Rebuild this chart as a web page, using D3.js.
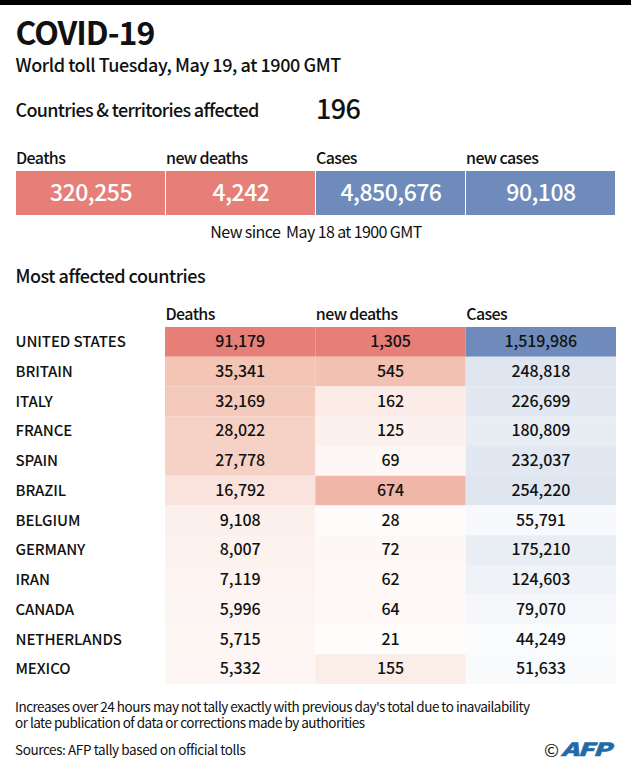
<!DOCTYPE html>
<html>
<head>
<meta charset="utf-8">
<script src="https://cdn.jsdelivr.net/npm/d3@7"></script>
<style>
html, body { margin: 0; padding: 0; background: #fff; }
svg { display: block; }
text { font-family: "Noto Sans CJK SC", "Noto Sans", sans-serif; fill: #111; white-space: pre; }
</style>
</head>
<body>
<div id="chart"></div>
<script>
var summaryLabels = ['Deaths', 'new deaths', 'Cases', 'new cases'];
var summaryValues = [320255, 4242, 4850676, 90108];
var summaryColors = ['#e57f78', '#e57f78', '#6e8bbb', '#6e8bbb'];

var tableHeaders = ['Deaths', 'new deaths', 'Cases'];
var countries = ['UNITED STATES', 'BRITAIN', 'ITALY', 'FRANCE', 'SPAIN', 'BRAZIL', 'BELGIUM', 'GERMANY', 'IRAN', 'CANADA', 'NETHERLANDS', 'MEXICO'];
var deaths = [91179, 35341, 32169, 28022, 27778, 16792, 9108, 8007, 7119, 5996, 5715, 5332];
var newDeaths = [1305, 545, 162, 125, 69, 674, 28, 72, 62, 64, 21, 155];
var cases = [1519986, 248818, 226699, 180809, 232037, 254220, 55791, 175210, 124603, 79070, 44249, 51633];

var width = 631, height = 768;
var fmt = d3.format(',');

var svg = d3.select('#chart').append('svg').attr('width', width).attr('height', height);

function label(x, y, str, size, weight, anchor, spacing) {
	return svg.append('text').attr('x', x).attr('y', y).text(str)
		.style('font-size', size + 'px')
		.style('font-weight', weight || 500)
		.style('letter-spacing', (spacing || 0) + 'px')
		.attr('text-anchor', anchor || 'start');
}

svg.append('rect').attr('width', width).attr('height', 5).attr('fill', '#000');

label(15.5, 45, 'COVID-19', 32, 700, 'start', -1);
label(15.5, 71.5, 'World toll Tuesday, May 19, at 1900 GMT', 18, 500, 'start', -0.43);
label(15.5, 116.5, 'Countries & territories affected', 18, 500, 'start', -0.68);
label(316, 119, '196', 27, 500, 'start', -0.6);

// summary boxes
var sx = d3.scaleBand().domain(d3.range(4)).range([16, 616]);
var sumG = svg.selectAll('g.sum').data(summaryValues).enter().append('g').attr('class', 'sum');
sumG.append('rect')
	.attr('x', function(d, i) { return sx(i); })
	.attr('y', 171).attr('height', 44)
	.attr('width', sx.bandwidth() - 1)
	.attr('fill', function(d, i) { return summaryColors[i]; });
sumG.append('text')
	.attr('x', function(d, i) { return sx(i) + sx.bandwidth() / 2; })
	.attr('y', 201)
	.attr('text-anchor', 'middle')
	.style('font-size', '23px')
	.style('font-weight', 500)
	.style('letter-spacing', '-0.5px')
	.style('fill', '#fff')
	.text(function(d) { return fmt(d); });
summaryLabels.forEach(function(d, i) { label(sx(i), 163.5, d, 16, 500, 'start', -0.6); });

label(316, 238, 'New since  May 18 at 1900 GMT', 16, 400, 'middle', -0.6);
label(15.5, 282.5, 'Most affected countries', 18, 500, 'start', -0.47);

// table
var columns = [deaths, newDeaths, cases];
var lowColors = ['#f3c3b3', '#f3c3b3', '#dfe6f0'];
var topColors = ['#e57f78', '#e57f78', '#6e8bbb'];
var breaks = [0.4, 0.4, 0.165];
var x = d3.scaleBand().domain(d3.range(3)).range([165, 616]);
var y = d3.scaleBand().domain(countries).range([327, 684]);

tableHeaders.forEach(function(d, i) { label(x(i) + 0.5, 319.5, d, 16, 500, 'start', -0.6); });

countries.forEach(function(d) {
	label(15.5, y(d) + 20, d, 15, 500, 'start', -0.1);
});

columns.forEach(function(col, c) {
	var max = d3.max(col);
	var color = d3.scaleLinear().domain([0, max * breaks[c], max])
		.range(['#ffffff', lowColors[c], topColors[c]]);
	var g = svg.append('g');
	g.selectAll('rect').data(col).enter().append('rect')
		.attr('x', x(c)).attr('width', x.bandwidth())
		.attr('y', function(d, i) { return y(countries[i]); })
		.attr('height', y.bandwidth())
		.attr('fill', function(d) { return color(d); });
	g.selectAll('text').data(col).enter().append('text')
		.attr('x', x(c) + x.bandwidth() / 2)
		.attr('y', function(d, i) { return y(countries[i]) + 20; })
		.attr('text-anchor', 'middle')
		.style('font-size', '16px')
		.style('font-weight', 500)
		.style('letter-spacing', '-0.1px')
		.text(function(d) { return fmt(d); });
});

label(15, 712, "Increases over 24 hours may not tally exactly with previous day's total due to inavailability", 13.5, 400, 'start', -0.51);
label(15, 728, 'or late publication of data or corrections made by authorities', 13.5, 400, 'start', -0.51);
label(15, 755, 'Sources: AFP tally based on official tolls', 13.5, 400, 'start', -0.4);

label(544, 757, '\u00a9', 18, 400);
label(0, 0, 'AFP', 18, 900, 'start', -0.8)
	.attr('transform', 'translate(561,756) scale(1.5,1)')
	.style('fill', '#1f6ba8')
	.style('stroke', '#1f6ba8')
	.style('stroke-width', 0.5)
	.style('font-style', 'italic');
</script>
</body>
</html>
